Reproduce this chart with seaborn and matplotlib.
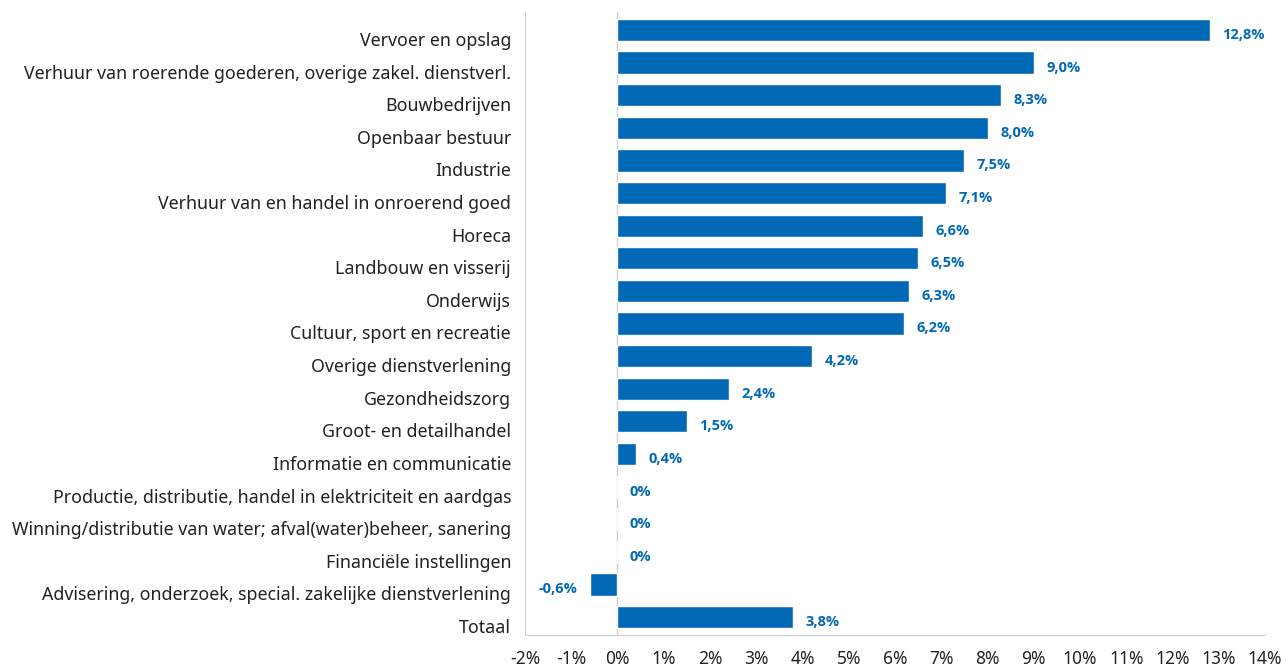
import matplotlib
matplotlib.use("Agg")
import matplotlib.pyplot as plt
import matplotlib.ticker as mticker
from matplotlib.transforms import ScaledTranslation
import seaborn as sns
import pandas as pd

sns.set_style("white")
plt.rcParams['font.family'] = ['Noto Sans', 'DejaVu Sans']

# Data
sectoren = [
    "Vervoer en opslag",
    "Verhuur van roerende goederen, overige zakel. dienstverl.",
    "Bouwbedrijven",
    "Openbaar bestuur",
    "Industrie",
    "Verhuur van en handel in onroerend goed",
    "Horeca",
    "Landbouw en visserij",
    "Onderwijs",
    "Cultuur, sport en recreatie",
    "Overige dienstverlening",
    "Gezondheidszorg",
    "Groot- en detailhandel",
    "Informatie en communicatie",
    "Productie, distributie, handel in elektriciteit en aardgas",
    "Winning/distributie van water; afval(water)beheer, sanering",
    "Financiële instellingen",
    "Advisering, onderzoek, special. zakelijke dienstverlening",
    "Totaal",
]
waarden = [12.8, 9.0, 8.3, 8.0, 7.5, 7.1, 6.6, 6.5, 6.3, 6.2, 4.2, 2.4, 1.5, 0.4,
           0.0, 0.0, 0.0, -0.6, 3.8]
labels = ["12,8%", "9,0%", "8,3%", "8,0%", "7,5%", "7,1%", "6,6%", "6,5%", "6,3%",
          "6,2%", "4,2%", "2,4%", "1,5%", "0,4%", "0%", "0%", "0%", "-0,6%", "3,8%"]

df = pd.DataFrame({"sector": sectoren, "waarde": waarden})
blauw = "#0068B4"
grijs = "#D0D0D0"

fig, ax = plt.subplots(figsize=(12.88, 6.67), dpi=100)
fig.subplots_adjust(left=0.4076, right=0.9822, top=0.982, bottom=0.048)

sns.barplot(data=df, x="waarde", y="sector", color=blauw, saturation=1,
            width=0.68, orient="h", ax=ax)

# nul-lijn
ax.axvline(0, color=grijs, linewidth=1, zorder=0)

# waardelabels, vet en blauw
for i, (w, t) in enumerate(zip(waarden, labels)):
    if w < 0:
        ax.annotate(t, (w, i), xytext=(-9, -3.6), textcoords="offset points",
                    ha="right", va="center", color=blauw, fontweight="bold",
                    fontsize=10.5, family=["Open Sans", "DejaVu Sans"])
    else:
        ax.annotate(t, (w, i), xytext=(9, -3.6), textcoords="offset points",
                    ha="left", va="center", color=blauw, fontweight="bold",
                    fontsize=10.5, family=["Open Sans", "DejaVu Sans"])

ax.set_xlim(-2, 14)
ax.set_ylim(18.55, -0.55)
ax.xaxis.set_major_locator(mticker.MultipleLocator(1))
ax.xaxis.set_major_formatter(mticker.FuncFormatter(lambda v, p: f"{v:.0f}%"))
ax.set_xlabel("")
ax.set_ylabel("")

ax.tick_params(axis="x", direction="in", length=15, color=grijs, width=1,
               labelsize=12.5, pad=11, labelcolor="#222222")
ax.tick_params(axis="y", length=0, labelsize=12.8, pad=10, labelcolor="#222222")

# labels iets lager dan het midden van de balk, zoals in het origineel
verschuif = ScaledTranslation(0, -0.09, fig.dpi_scale_trans)
for lab in ax.get_yticklabels():
    lab.set_transform(lab.get_transform() + verschuif)

for s in ["top", "right"]:
    ax.spines[s].set_visible(False)
ax.spines["left"].set_color(grijs)
ax.spines["bottom"].set_color(grijs)

plt.savefig("out.png", dpi=100)
